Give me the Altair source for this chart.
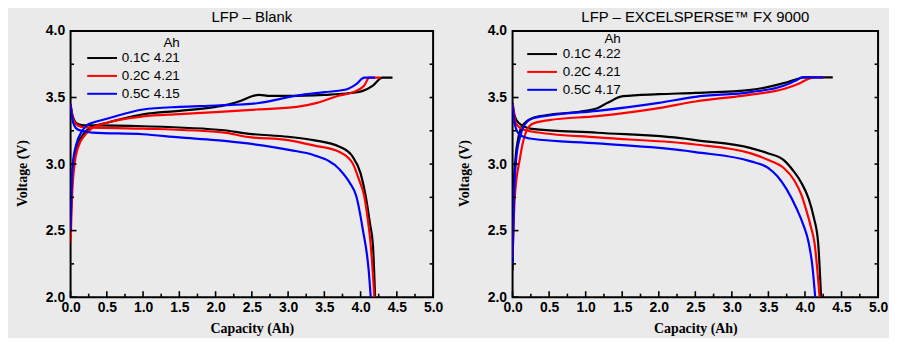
import altair as alt
import pandas as pd

rates = ["0.1C", "0.2C", "0.5C"]
line_colors = ["#000000", "#ff0000", "#0000ff"]
blank_caps = ["4.21", "4.21", "4.15"]
fx_caps = ["4.22", "4.21", "4.17"]

x_major = [0.0, 0.5, 1.0, 1.5, 2.0, 2.5, 3.0, 3.5, 4.0, 4.5, 5.0]
x_minor = [0.25, 0.75, 1.25, 1.75, 2.25, 2.75, 3.25, 3.75, 4.25, 4.75]
y_major = [2.0, 2.5, 3.0, 3.5, 4.0]
y_minor = [2.25, 2.75, 3.25, 3.75]
y_all = [2.25, 2.5, 2.75, 3.0, 3.25, 3.5, 3.75]

# ---- LFP - Blank (capacity Ah, voltage V) ----
blank_charge_01 = [(0, 2.6), (0.02, 2.85), (0.05, 3.05), (0.1, 3.15), (0.2, 3.24), (0.3, 3.28), (0.5, 3.31),
                   (1.0, 3.373), (1.5, 3.40), (2.0, 3.43), (2.2, 3.45), (2.35, 3.475), (2.5, 3.51), (2.6, 3.52),
                   (2.75, 3.512), (3.0, 3.512), (3.5, 3.52), (3.8, 3.53), (4.03, 3.55), (4.17, 3.59),
                   (4.3, 3.65), (4.44, 3.65)]
blank_charge_02 = [(0, 2.41), (0.02, 2.75), (0.055, 3.0), (0.1, 3.12), (0.2, 3.22), (0.3, 3.27), (0.5, 3.31),
                   (1.0, 3.358), (1.5, 3.375), (2.0, 3.39), (2.57, 3.41), (3.12, 3.43), (3.4, 3.46), (3.67, 3.51),
                   (3.94, 3.55), (4.05, 3.59), (4.12, 3.65), (4.28, 3.65)]
blank_charge_05 = [(0, 2.5), (0.01, 2.75), (0.03, 3.0), (0.08, 3.15), (0.15, 3.24), (0.22, 3.29), (0.3, 3.31),
                   (0.5, 3.34), (1.0, 3.41), (1.5, 3.43), (2.0, 3.44), (2.57, 3.457), (3.12, 3.514), (3.5, 3.54),
                   (3.8, 3.56), (3.94, 3.60), (4.05, 3.65), (4.2, 3.65)]
blank_dis_01 = [(0, 3.45), (0.02, 3.38), (0.05, 3.33), (0.1, 3.30), (0.2, 3.29), (0.3, 3.29), (1.0, 3.284),
                (2.12, 3.254), (2.44, 3.229), (3.0, 3.205), (3.35, 3.18), (3.71, 3.13), (3.89, 3.056),
                (4.0, 2.93), (4.07, 2.76), (4.13, 2.55), (4.17, 2.39), (4.2, 2.0)]
blank_dis_02 = [(0, 3.45), (0.02, 3.37), (0.05, 3.32), (0.1, 3.29), (0.2, 3.275), (0.3, 3.274), (1.0, 3.266),
                (2.12, 3.236), (2.44, 3.204), (3.0, 3.18), (3.35, 3.14), (3.71, 3.09), (3.89, 3.006),
                (3.98, 2.88), (4.05, 2.76), (4.1, 2.58), (4.14, 2.39), (4.19, 2.0)]
blank_dis_05 = [(0, 3.45), (0.02, 3.35), (0.05, 3.29), (0.1, 3.26), (0.2, 3.245), (0.3, 3.236), (1.0, 3.224),
                (1.5, 3.2), (2.0, 3.18), (2.44, 3.155), (3.03, 3.105), (3.35, 3.068), (3.71, 2.96),
                (3.85, 2.86), (3.94, 2.76), (4.03, 2.51), (4.11, 2.21), (4.14, 2.0)]

# ---- LFP - EXCELSPERSE FX 9000 ----
fx_charge_01 = [(0, 2.2), (0.01, 2.75), (0.04, 3.04), (0.08, 3.2), (0.125, 3.28), (0.26, 3.343), (0.5, 3.37),
                (1.0, 3.40), (1.16, 3.42), (1.3, 3.46), (1.51, 3.51), (2.0, 3.525), (2.5, 3.535), (3.26, 3.558),
                (3.5, 3.58), (3.71, 3.608), (3.93, 3.645), (3.98, 3.652), (4.38, 3.652)]
fx_charge_02 = [(0, 2.3), (0.03, 2.75), (0.1, 3.04), (0.15, 3.18), (0.26, 3.30), (0.5, 3.33), (1.16, 3.36),
                (2.0, 3.42), (2.5, 3.47), (3.26, 3.522), (3.71, 3.564), (3.93, 3.608), (4.07, 3.645),
                (4.12, 3.652), (4.25, 3.652)]
fx_charge_05 = [(0, 2.25), (0.02, 2.75), (0.05, 3.04), (0.1, 3.2), (0.15, 3.28), (0.26, 3.34), (0.5, 3.365),
                (1.16, 3.40), (2.0, 3.46), (2.5, 3.505), (3.26, 3.541), (3.71, 3.589), (3.89, 3.632),
                (3.96, 3.652), (4.25, 3.652)]
fx_dis_01 = [(0, 3.46), (0.03, 3.36), (0.08, 3.31), (0.26, 3.265), (1.16, 3.235), (2.37, 3.19), (2.5, 3.18),
             (3.26, 3.12), (3.5, 3.08), (3.71, 3.03), (3.84, 2.95), (3.95, 2.86), (4.05, 2.74), (4.12, 2.6),
             (4.18, 2.41), (4.22, 2.0)]
fx_dis_02 = [(0, 3.45), (0.05, 3.3), (0.15, 3.26), (0.26, 3.245), (1.16, 3.20), (2.37, 3.155), (2.5, 3.147),
             (3.26, 3.08), (3.5, 3.03), (3.71, 2.97), (3.85, 2.88), (3.95, 2.77), (4.02, 2.65), (4.08, 2.53),
             (4.13, 2.41), (4.2, 2.0)]
fx_dis_05 = [(0, 3.45), (0.03, 3.3), (0.1, 3.22), (0.26, 3.19), (1.16, 3.155), (2.37, 3.10), (2.5, 3.09),
             (3.26, 3.02), (3.5, 2.97), (3.62, 2.91), (3.75, 2.81), (3.89, 2.66), (3.98, 2.54), (4.05, 2.41),
             (4.1, 2.24), (4.14, 2.0)]

blank_curves = [[blank_charge_01, blank_dis_01], [blank_charge_02, blank_dis_02], [blank_charge_05, blank_dis_05]]
fx_curves = [[fx_charge_01, fx_dis_01], [fx_charge_02, fx_dis_02], [fx_charge_05, fx_dis_05]]

FONT = "Liberation Sans"
SERIF = "Liberation Serif"
H = 268


def build_df(curves, caps):
    rows = []
    labels = [f"{r} {c}" for r, c in zip(rates, caps)]
    for i, (lab, pair) in enumerate(zip(labels, curves)):
        for kind, pts in zip(["charge", "discharge"], pair):
            for k, (c, v) in enumerate(pts):
                rows.append({"series": lab, "curve": f"{i}-{kind}", "cap": c, "volt": v, "ord": k})
    return pd.DataFrame(rows), labels


X_AXIS = alt.Axis(
    values=x_major, format=".1f", title="Capacity (Ah)", ticks=False, domain=False, grid=False,
    labelFont=FONT, labelFontWeight="bold", labelFontSize=14, labelColor="black", labelPadding=3,
    labelOverlap=False, labelFlush=False,
    titleFont=SERIF, titleFontSize=14, titleFontWeight="bold", titleColor="black", titlePadding=8)
Y_AXIS = alt.Axis(
    values=y_major, format=".1f", title="Voltage (V)", ticks=False, domain=False, grid=False,
    labelFont=FONT, labelFontWeight="bold", labelFontSize=14, labelColor="black", labelPadding=6,
    labelOverlap=False, labelFlush=False, titleY=H / 2 + 9,
    titleFont=SERIF, titleFontSize=14, titleFontWeight="bold", titleColor="black", titlePadding=16)


def panel(title, curves, caps, W, lx, ly, lo):
    df, labels = build_df(curves, caps)
    xs = alt.Scale(domain=[0, 5], nice=False, zero=False)
    ys = alt.Scale(domain=[2, 4], nice=False, zero=False)
    color = alt.Color(
        "series:N",
        scale=alt.Scale(domain=labels, range=line_colors),
        sort=labels,
        legend=alt.Legend(
            title="Ah", orient="none", legendX=lx, legendY=ly,
            titleFont=FONT, titleFontSize=13.5, titleFontWeight="normal", titleColor="black",
            titleAnchor="end", titleAlign="right", titlePadding=2,
            labelFont=FONT, labelFontSize=13.5, labelColor="black", labelOffset=lo,
            symbolType="M-3,0H3", symbolSize=100, symbolStrokeWidth=2,
            rowPadding=3, padding=0,
        ),
    )
    x_enc = alt.X("cap:Q", scale=xs, axis=X_AXIS)
    y_enc = alt.Y("volt:Q", scale=ys, axis=Y_AXIS)

    lines = alt.Chart(df).mark_line(strokeWidth=2.2, clip=True, interpolate="monotone").encode(
        x=x_enc, y=y_enc, color=color, detail="curve:N", order="ord:Q")

    xa = alt.X("v:Q", scale=xs, axis=X_AXIS)
    ya = alt.Y("v:Q", scale=ys, axis=Y_AXIS)
    tk = dict(color="black", strokeWidth=1.6)
    t1 = alt.Chart(pd.DataFrame({"v": x_major})).mark_rule(**tk).encode(
        x=xa, y=alt.value(H), y2=alt.value(H - 6))
    t2 = alt.Chart(pd.DataFrame({"v": x_minor})).mark_rule(**tk).encode(
        x=xa, y=alt.value(H), y2=alt.value(H - 3.5))
    t3 = alt.Chart(pd.DataFrame({"v": y_major})).mark_rule(**tk).encode(
        y=ya, x=alt.value(0), x2=alt.value(6))
    t4 = alt.Chart(pd.DataFrame({"v": y_minor})).mark_rule(**tk).encode(
        y=ya, x=alt.value(0), x2=alt.value(3.5))
    t5 = alt.Chart(pd.DataFrame({"v": y_all})).mark_rule(**tk).encode(
        y=ya, x=alt.value(W), x2=alt.value(W - 3.5))

    return alt.layer(lines, t1, t2, t3, t4, t5).properties(
        width=W, height=H,
        title=alt.TitleParams(title, font=FONT, fontSize=15, fontWeight="normal", color="black",
                              anchor="middle", offset=-1),
    )


left = panel("LFP – Blank", blank_curves, blank_caps, 365, 25, 5, 13)
right = panel("LFP – EXCELSPERSE™ FX 9000", fx_curves, fx_caps, 368, 23, 1, 14)

chart = alt.hconcat(left, right, spacing=12).resolve_scale(color="independent").resolve_legend(
    color="independent").properties(
    background="#eaeaea",
    padding={"left": 6, "right": 0, "top": 0, "bottom": 0},
).configure_view(stroke="black", strokeWidth=2, fill="#eaeaea")

chart.save("out.html", embed_options={"renderer": "svg", "actions": False})
